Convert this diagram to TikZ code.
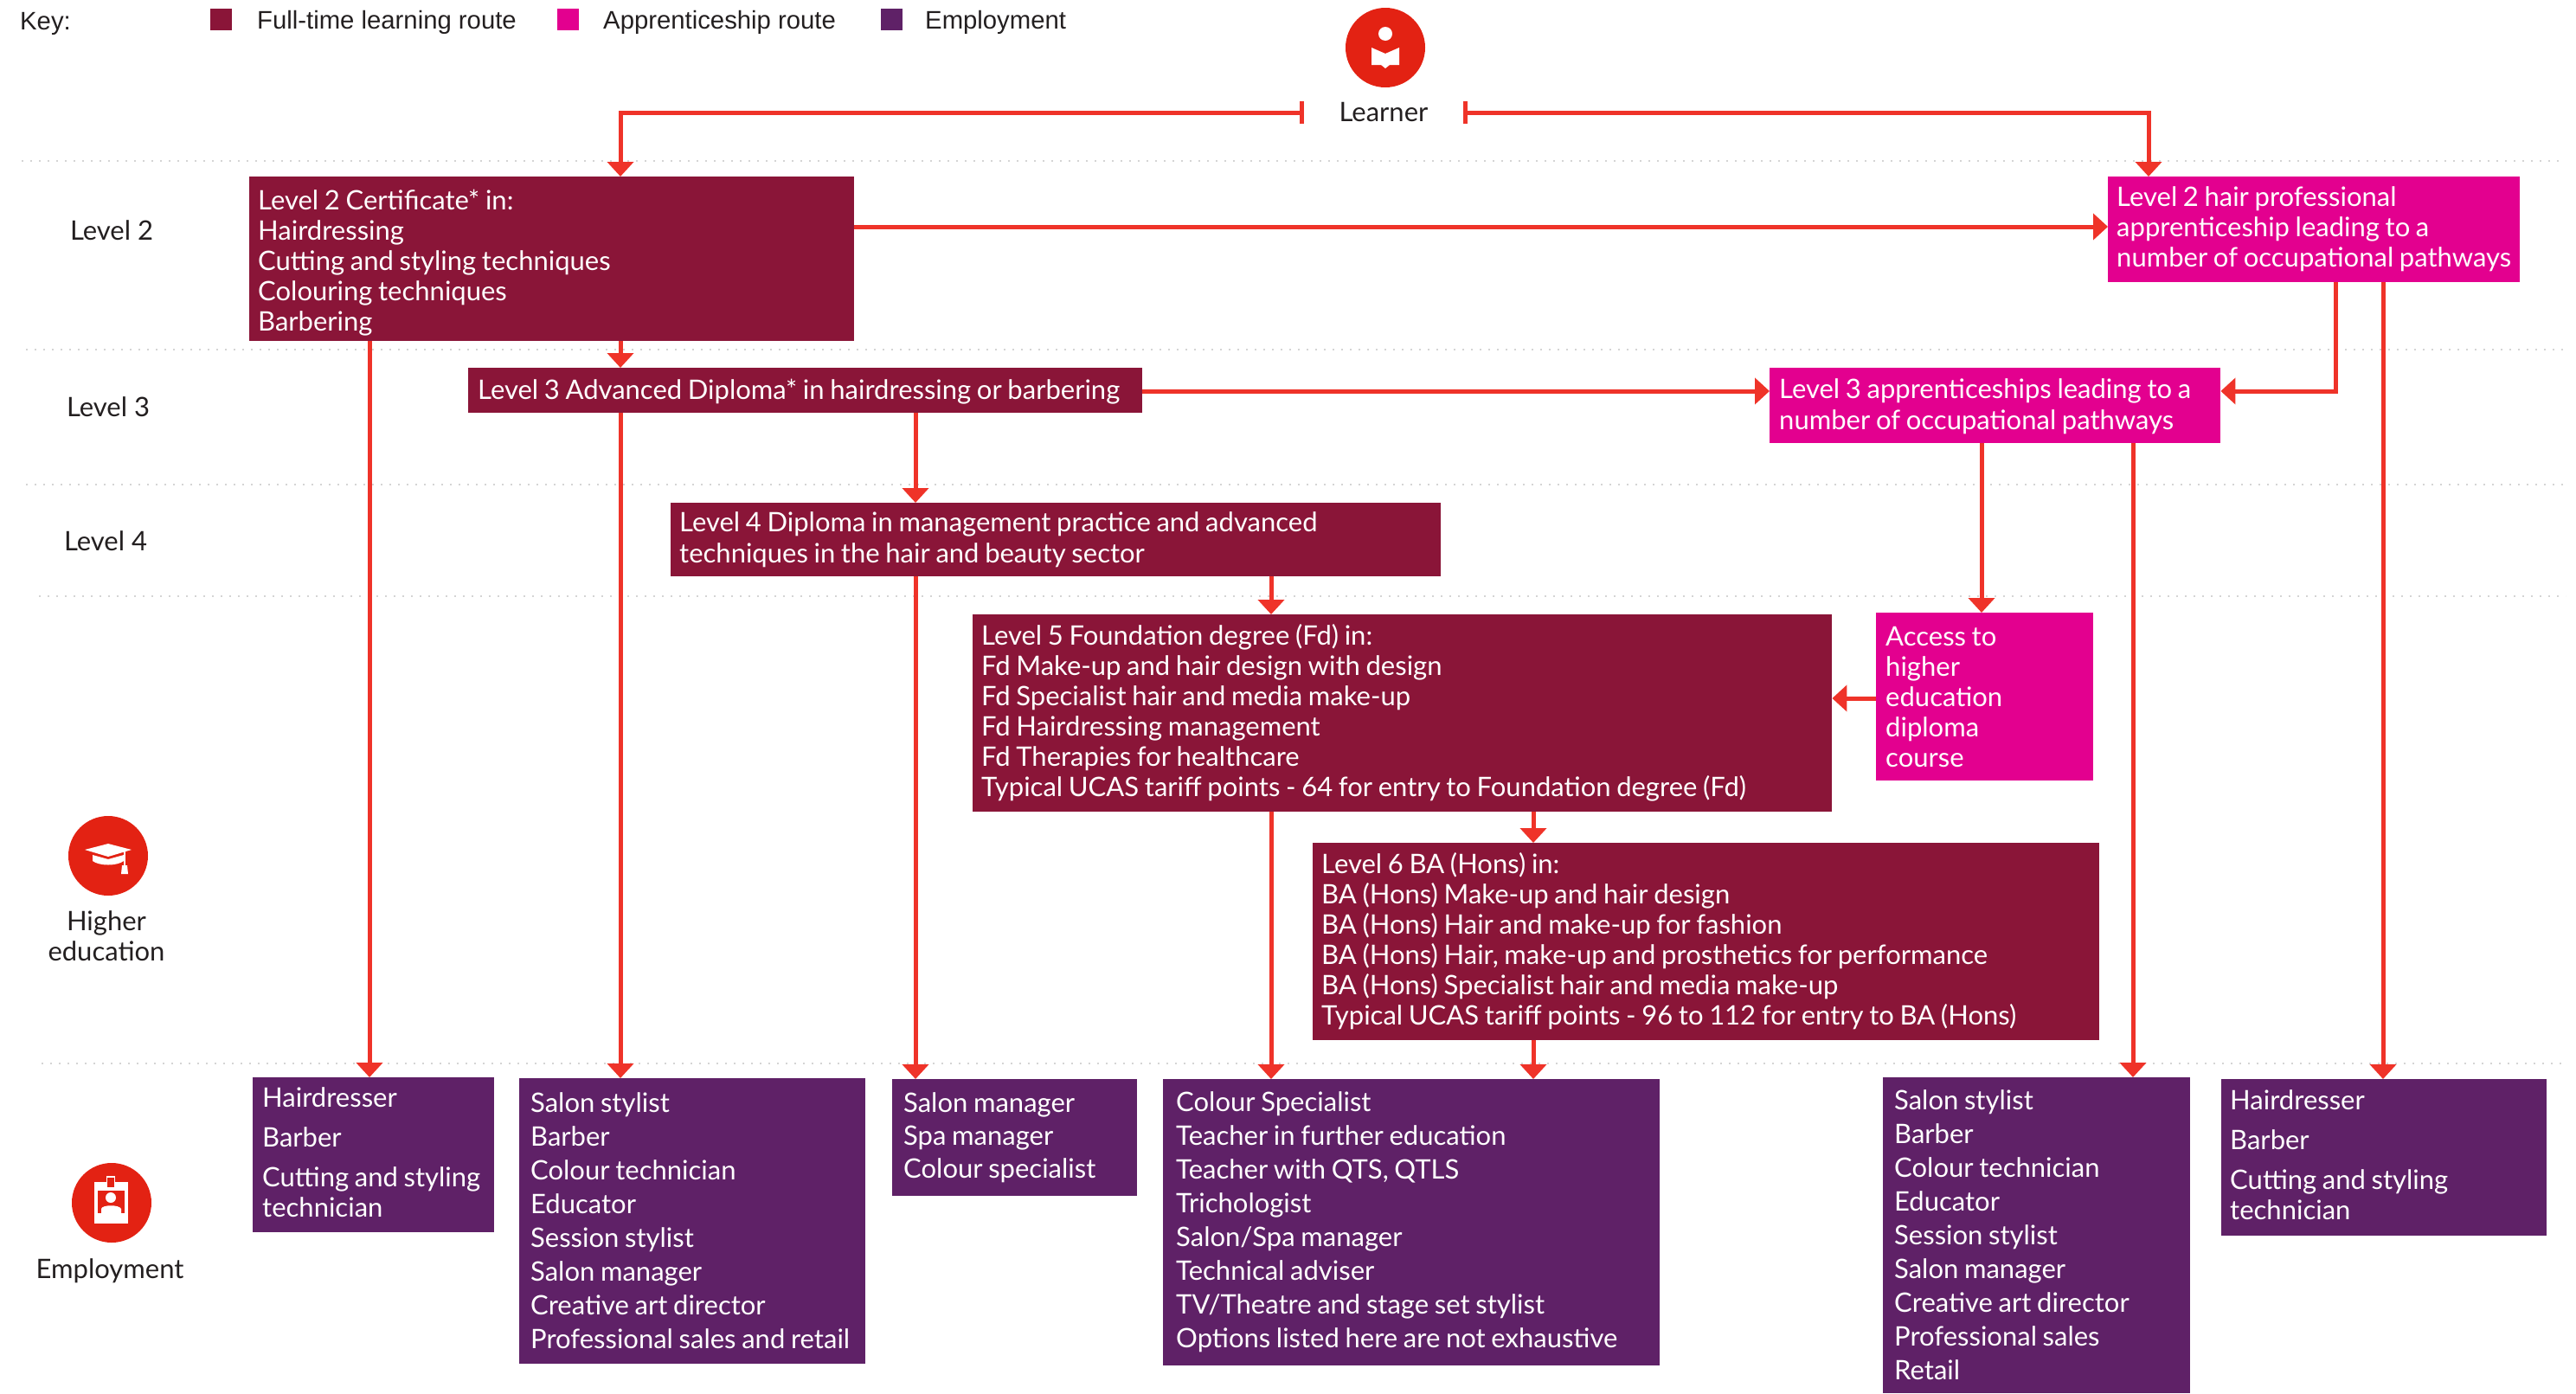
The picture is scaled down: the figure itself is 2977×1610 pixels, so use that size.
\documentclass[tikz,border=0pt]{standalone}
\usepackage{fontspec}
\setmainfont{Lato}
\newfontfamily\keyfont{Liberation Sans}
\usetikzlibrary{arrows.meta}
\definecolor{fulltime}{HTML}{8A1538}
\definecolor{appren}{HTML}{E3008F}
\definecolor{employ}{HTML}{5F2167}
\definecolor{linkred}{HTML}{EF3329}
\definecolor{iconred}{HTML}{E32213}
\definecolor{dotgrey}{HTML}{D4D4D4}
\definecolor{inktext}{HTML}{231F20}
\newcommand{\ins}[1]{\leftskip=#1pt\relax}
\newcommand{\bx}[8]{%
  \pgfmathsetlengthmacro{\bxw}{(#5-#3)*1pt}%
  \pgfmathsetlengthmacro{\bxh}{(#6-#4)*1pt}%
  \pgfmathsetlengthmacro{\bxt}{(#5-#3-20)*1pt}%
  \node[#2,minimum width=\bxw,minimum height=\bxh,text width=\bxt,anchor=north west] (#1) at (#3,#4)
    {\fontsize{31}{#7}\selectfont\spaceskip=.215em\relax\hyphenpenalty=10000\relax #8\par};}
\tikzset{
  boxbase/.style={inner xsep=10pt,inner ysep=0pt,align=left,text=white},
  ftbox/.style={boxbase,fill=fulltime},
  apbox/.style={boxbase,fill=appren},
  embox/.style={boxbase,fill=employ},
  conn/.style={draw=linkred,line width=5pt,-{Triangle[length=17pt,width=30pt]}},
  dotrule/.style={draw=dotgrey,line width=2pt,dash pattern=on 2pt off 8pt},
  lab/.style={text=inktext,font=\fontsize{31}{35}\selectfont,align=center,inner sep=0pt},
  keylab/.style={text=inktext,font=\keyfont\fontsize{29.3}{34}\selectfont,anchor=west,inner sep=0pt},
  keysq/.style={minimum width=25pt,minimum height=25pt,inner sep=0pt,anchor=north west},
  iconc/.style={circle,fill=iconred,minimum size=92pt,inner sep=0pt},
}
\begin{document}
\begin{tikzpicture}[x=1pt,y=-1pt]
\useasboundingbox (0,0) rectangle (2977,1610);
% rules
\draw[dotrule] (25,186) -- (2960,186);
\draw[dotrule] (30,404) -- (2965,404);
\draw[dotrule] (30,560) -- (2965,560);
\draw[dotrule] (45,689) -- (2965,689);
\draw[dotrule] (48,1229) -- (2965,1229);
% key
\node[keylab] (keyk) at (23,27) {Key:};
\node[keysq,fill=fulltime] (keya) at (243,10) {};
\node[keylab] (keyat) at (297,26) {Full-time learning route};
\node[keysq,fill=appren] (keyb) at (644,10) {};
\node[keylab] (keybt) at (697,26) {Apprenticeship route};
\node[keysq,fill=employ] (keyc) at (1018,10) {};
\node[keylab] (keyct) at (1069,26) {Employment};
% side labels
\node[lab] (l2) at (129,266) {Level 2};
\node[lab] (l3) at (125,470) {Level 3};
\node[lab] (l4) at (122,625) {Level 4};
\node[iconc] (iconhe) at (125,989) {};
\node[lab] (he) at (123,1082) {Higher\\education};
\node[iconc] (iconem) at (129,1390) {};
\node[lab] (em) at (127,1469) {Employment};
\node[iconc] (iconle) at (1601,55) {};
\node[lab,minimum width=184pt] (learner) at (1599,130) {Learner};
% icons
\fill[white] (1601,39) circle (8);
\fill[white] (1585,55) -- (1601,62) -- (1617,55) -- (1617,75) -- (1606,75) -- (1601,79) -- (1596,75) -- (1585,75) -- cycle;
\fill[white] (98,982) -- (125,975) -- (152,982) -- (125,990) -- cycle;
\fill[white] (107,988) -- (125,993) -- (143,988) -- (143,995) .. controls (135,1001) and (115,1001) .. (107,995) -- cycle;
\draw[white,line width=1.5pt] (144,983) -- (144,1003);
\fill[white] (141,1000) -- (147,1000) -- (148,1010) -- (140,1010) -- cycle;
\fill[white] (109,1366) rectangle (148,1414);
\fill[white] (123,1359) rectangle (133,1368);
\fill[iconred] (113,1376) rectangle (144,1402);
\fill[iconred] (124,1361) rectangle (132,1372);
\fill[white] (128,1384) circle (6);
\fill[white] (117,1402) -- (117,1397) .. controls (118,1392) and (138,1392) .. (140,1397) -- (140,1402) -- cycle;
% boxes
\bx{cert}{ftbox}{288}{204}{987}{394}{35}{Level 2 Certificate* in:\\Hairdressing\\Cutting and styling techniques\\Colouring techniques\\Barbering\par\vspace{-8pt}}
\bx{adv}{ftbox}{541}{425}{1320}{477}{35}{\ins{1}Level 3 Advanced Diploma* in hairdressing or barbering\par\vspace{-2pt}}
\bx{dip}{ftbox}{775}{581}{1665}{666}{36}{Level 4 Diploma in management practice and advanced\\techniques in the hair and beauty sector}
\bx{fd}{ftbox}{1124}{710}{2117}{938}{35}{Level 5 Foundation degree (Fd) in:\\Fd Make-up and hair design with design\\Fd Specialist hair and media make-up\\Fd Hairdressing management\\Fd Therapies for healthcare\\Typical UCAS tariff points - 64 for entry to Foundation degree (Fd)}
\bx{ba}{ftbox}{1517}{974}{2426}{1202}{35}{Level 6 BA (Hons) in:\\BA (Hons) Make-up and hair design\\BA (Hons) Hair and make-up for fashion\\BA (Hons) Hair, make-up and prosthetics for performance\\BA (Hons) Specialist hair and media make-up\\Typical UCAS tariff points - 96 to 112 for entry to BA (Hons)\par\vspace{2pt}}
\bx{hair}{apbox}{2436}{204}{2912}{326}{35}{Level 2 hair professional\\apprenticeship leading to a\\\mbox{number of occupational pathways}}
\bx{app}{apbox}{2045}{425}{2566}{512}{36}{\ins{1}Level 3 apprenticeships leading to a\\number of occupational pathways\par\vspace{-2pt}}
\bx{acc}{apbox}{2168}{708}{2419}{902}{35}{\ins{1}Access to\\higher\\education\\diploma\\course}
\bx{ea}{embox}{292}{1245}{571}{1424}{35}{\ins{1}Hairdresser\\[11pt]Barber\\[11pt]Cutting and styling\\technician\par\vspace{7pt}}
\bx{eb}{embox}{600}{1246}{1000}{1576}{39}{\ins{3}Salon stylist\\Barber\\Colour technician\\Educator\\Session stylist\\Salon manager\\Creative art director\\Professional sales and retail\par\vspace{2pt}}
\bx{ec}{embox}{1031}{1247}{1314}{1382}{38}{\ins{3}Salon manager\\Spa manager\\Colour specialist}
\bx{ed}{embox}{1344}{1247}{1918}{1578}{39}{\ins{5}Colour Specialist\\Teacher in further education\\Teacher with QTS, QTLS\\Trichologist\\Salon/Spa manager\\Technical adviser\\TV/Theatre and stage set stylist\\Options listed here are not exhaustive}
\bx{ee}{embox}{2176}{1245}{2531}{1610}{39}{\ins{3}Salon stylist\\Barber\\Colour technician\\Educator\\Session stylist\\Salon manager\\Creative art director\\Professional sales\\Retail\par\vspace{2pt}}
\bx{ef}{embox}{2567}{1247}{2943}{1428}{35}{Hairdresser\\[11pt]Barber\\[11pt]Cutting and styling\\technician\par\vspace{7pt}}
% connector columns and rows
\foreach \nm/\xx in {xa/427,xb/717,xc/1058,xd/1469,xe/1772,xf/2290,xg/2465,xh/2483,xi/2699,xj/2754}
  \coordinate (\nm) at (\xx,0);
\foreach \nm/\yy in {ya/262,yb/452,yc/807}
  \coordinate (\nm) at (0,\yy);
% connectors
\draw[conn,{Bar[width=26pt,length=4pt]}-{Triangle[length=17pt,width=30pt]}] (learner.west) -| (xb |- cert.north);
\draw[conn,{Bar[width=26pt,length=4pt]}-{Triangle[length=17pt,width=30pt]}] (learner.east) -| (xh |- hair.north);
\draw[conn] (cert.east |- ya) -- (hair.west |- ya);
\draw[conn] (xb |- cert.south) -- (xb |- adv.north);
\draw[conn] (xa |- cert.south) -- (xa |- ea.north);
\draw[conn] (xb |- adv.south) -- (xb |- eb.north);
\draw[conn] (adv.east |- yb) -- (app.west |- yb);
\draw[conn] (xc |- adv.south) -- (xc |- dip.north);
\draw[conn] (xc |- dip.south) -- (xc |- ec.north);
\draw[conn] (xd |- dip.south) -- (xd |- fd.north);
\draw[conn] (xd |- fd.south) -- (xd |- ed.north);
\draw[conn] (xe |- fd.south) -- (xe |- ba.north);
\draw[conn] (xe |- ba.south) -- (xe |- ed.north);
\draw[conn] (acc.west |- yc) -- (fd.east |- yc);
\draw[conn] (xf |- app.south) -- (xf |- acc.north);
\draw[conn] (xg |- app.south) -- (xg |- ee.north);
\draw[conn] (xi |- hair.south) |- (app.east |- yb);
\draw[conn] (xj |- hair.south) -- (xj |- ef.north);
\end{tikzpicture}
\end{document}
